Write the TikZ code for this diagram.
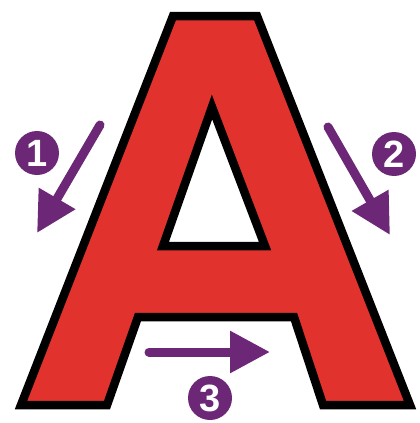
\documentclass[tikz,border=0pt]{standalone}
\usepackage{fontspec}
\setmainfont{Liberation Sans}
\usetikzlibrary{arrows.meta}
\definecolor{ared}{RGB}{226,50,46}
\definecolor{apurple}{RGB}{108,40,118}
\tikzset{
  outline/.style={draw=black,line width=8.5pt,line join=miter},
  purplearrow/.style={draw=apurple,line width=9pt,line cap=round,
     -{Triangle[length=40pt,width=40pt]}},
  numcircle/.style={circle,fill=apurple,minimum size=44pt,inner sep=0pt,
     text=white,font=\fontsize{38}{38}\selectfont\bfseries}
}
\begin{document}
\begin{tikzpicture}[x=1pt,y=-1pt]
\useasboundingbox (0,0) rectangle (420,423);
% letter A
\path[fill=ared,outline,even odd rule]
  (173,16) -- (257,16) -- (410,405) -- (323,405) -- (294,317) -- (138,317)
  -- (107,405) -- (21,405) -- cycle
  (212,107) -- (163,246) -- (265,246) -- cycle;
% arrows
\coordinate (a1s) at (100,125);
\coordinate (a1e) at (37,233);
\coordinate (a2s) at (328,127);
\coordinate (a2e) at (390,235);
\coordinate (a3s) at (149,352);
\coordinate (a3e) at (270,352);
\draw[purplearrow] (a1s) -- (a1e);
\draw[purplearrow] (a2s) -- (a2e);
\draw[purplearrow] (a3s) -- (a3e);
% numbers
\node[numcircle] (n1) at (37,153) {1};
\node[numcircle] (n2) at (394,154) {2};
\node[numcircle] (n3) at (210,398) {3};
\end{tikzpicture}
\end{document}
